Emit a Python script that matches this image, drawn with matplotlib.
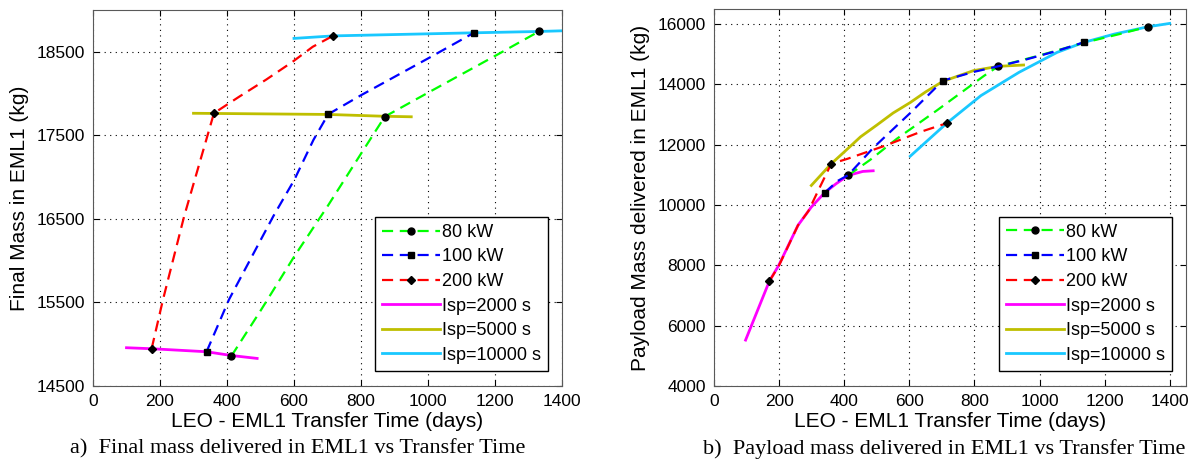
import matplotlib
matplotlib.use('Agg')
import matplotlib.pyplot as plt

plt.rcParams['font.family'] = ['Liberation Sans', 'DejaVu Sans']

# ---- data: final mass (left) ----
fm_80_x = [413, 500, 601, 700, 800, 871, 1000, 1100, 1200, 1331]
fm_80_y = [14858, 15400, 16052, 16650, 17280, 17724, 18010, 18230, 18450, 18743]
fm_80_mk = [0, 5, 9]
fm_100_x = [339, 406, 538, 601, 658, 702, 800, 900, 1000, 1137]
fm_100_y = [14910, 15535, 16530, 16968, 17445, 17752, 17980, 18200, 18420, 18727]
fm_100_mk = [0, 5, 9]
fm_200_x = [175, 209, 272, 338, 361, 437, 517, 596, 656, 716]
fm_200_y = [14946, 15535, 16530, 17445, 17765, 17964, 18167, 18381, 18560, 18690]
fm_200_mk = [0, 4, 9]
fm_isp2000_x = [100, 175, 339, 413, 490]
fm_isp2000_y = [14958, 14946, 14910, 14865, 14830]
fm_isp5000_x = [300, 361, 702, 871, 950]
fm_isp5000_y = [17764, 17762, 17750, 17728, 17722]
fm_isp10000_x = [600, 716, 1137, 1331, 1400]
fm_isp10000_y = [18660, 18690, 18727, 18743, 18751]

# ---- data: payload mass (right) ----
pm_80_x = [412, 480, 562, 685, 829, 873, 1000, 1136, 1250, 1333]
pm_80_y = [10981, 11500, 12200, 13140, 14280, 14599, 14960, 15380, 15680, 15911]
pm_80_mk = [0, 5, 9]
pm_100_x = [340, 380, 412, 489, 603, 703, 800, 873, 950, 1050, 1136]
pm_100_y = [10408, 10800, 10990, 11894, 13053, 14125, 14420, 14600, 14800, 15100, 15393]
pm_100_mk = [0, 5, 10]
pm_200_x = [170, 200, 258, 290, 330, 360, 410, 527, 634, 715]
pm_200_y = [7474, 8003, 9327, 9800, 10700, 11367, 11533, 11974, 12424, 12713]
pm_200_mk = [0, 5, 9]
pm_isp2000_x = [97, 170, 199, 258, 299, 340, 375, 412, 457, 489]
pm_isp2000_y = [5522, 7474, 8003, 9327, 9934, 10408, 10706, 10981, 11114, 11136]
pm_isp5000_x = [299, 360, 400, 450, 500, 550, 603, 650, 703, 797, 873, 951]
pm_isp5000_y = [10650, 11367, 11760, 12260, 12650, 13050, 13400, 13750, 14100, 14456, 14599, 14643]
pm_isp10000_x = [603, 715, 820, 937, 1054, 1136, 1230, 1333, 1400]
pm_isp10000_y = [11621, 12713, 13628, 14400, 15062, 15393, 15669, 15911, 16022]

power_labels = ['80 kW', '100 kW', '200 kW']
isp_labels = ['Isp=2000 s', 'Isp=5000 s', 'Isp=10000 s']
power_colors = ['#00ff00', '#0000ff', '#ff0000']
power_markers = ['o', 's', 'D']
isp_colors = ['#ff00ff', '#bfbf00', '#19c8ff']


def draw_panel(ax, power_data, isp_data, ylim, yticks, xmax, ylabel):
    for (x, y, mk), lab, col, m in zip(power_data, power_labels, power_colors, power_markers):
        ax.plot(x, y, color=col, lw=1.6, dashes=(5, 3), marker=m, markevery=mk,
                markersize=5 if m != 'D' else 4.5, mfc='k', mec='k', label=lab, zorder=3)
    for (x, y), lab, col in zip(isp_data, isp_labels, isp_colors):
        ax.plot(x, y, color=col, lw=2, label=lab, zorder=2)
    ax.set_xlim(0, xmax)
    ax.set_ylim(*ylim)
    ax.set_xticks(range(0, 1401, 200))
    ax.set_yticks(yticks)
    ax.grid(True, color='k', linestyle=(0, (1, 4)), lw=0.8)
    ax.tick_params(direction='in', top=True, right=True, labelsize=12.5, length=4, pad=6)
    for s in ax.spines.values():
        s.set_color('0.35')
    ax.set_xlabel('LEO - EML1 Transfer Time (days)', fontsize=15, labelpad=2)
    ax.set_ylabel(ylabel, fontsize=15, labelpad=5)
    leg = ax.legend(loc='lower right', bbox_to_anchor=(0.97, 0.04), fontsize=13,
                    fancybox=False, edgecolor='k', framealpha=1, handlelength=3.2,
                    labelspacing=0.42, borderpad=0.4, handletextpad=0.1, borderaxespad=0)
    leg.get_frame().set_linewidth(1)


fig = plt.figure(figsize=(11.96, 4.62), dpi=100)
ax1 = fig.add_axes([93 / 1196, 76 / 462, 469 / 1196, 376 / 462])
ax2 = fig.add_axes([714 / 1196, 76 / 462, 472 / 1196, 377 / 462])

draw_panel(ax1,
           [(fm_80_x, fm_80_y, fm_80_mk), (fm_100_x, fm_100_y, fm_100_mk), (fm_200_x, fm_200_y, fm_200_mk)],
           [(fm_isp2000_x, fm_isp2000_y), (fm_isp5000_x, fm_isp5000_y), (fm_isp10000_x, fm_isp10000_y)],
           (14500, 19000), [14500, 15500, 16500, 17500, 18500], 1400, 'Final Mass in EML1 (kg)')
draw_panel(ax2,
           [(pm_80_x, pm_80_y, pm_80_mk), (pm_100_x, pm_100_y, pm_100_mk), (pm_200_x, pm_200_y, pm_200_mk)],
           [(pm_isp2000_x, pm_isp2000_y), (pm_isp5000_x, pm_isp5000_y), (pm_isp10000_x, pm_isp10000_y)],
           (4000, 16500), range(4000, 16001, 2000), 1450, 'Payload Mass delivered in EML1 (kg)')

fig.text(298 / 1196, 1 - 449 / 462, 'a)  Final mass delivered in EML1 vs Transfer Time',
         family='Liberation Serif', fontsize=16, ha='center', va='center')
fig.text(703 / 1196, 1 - 449 / 462, 'b)  Payload mass delivered in EML1 vs Transfer Time',
         family='Liberation Serif', fontsize=16, ha='left', va='center')

fig.savefig('out.png', dpi=100)
